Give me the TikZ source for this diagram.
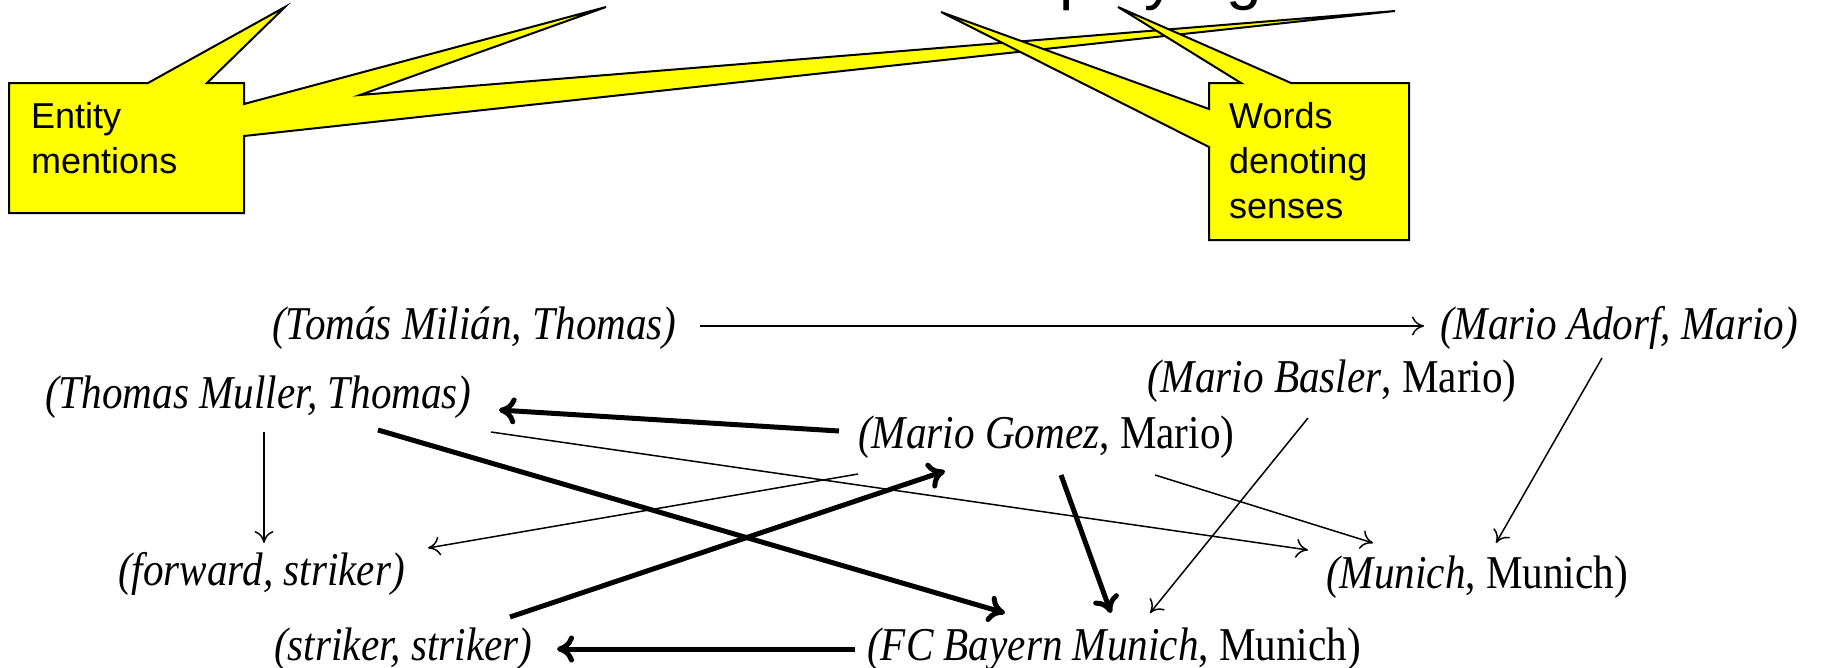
\documentclass[tikz,border=0pt]{standalone}
\usepackage{fontspec}
\setmainfont{Liberation Serif}
\setsansfont{Liberation Sans}
\usetikzlibrary{arrows.meta}
\definecolor{cyel}{RGB}{255,255,0}
\newcommand{\tallbox}[1]{\scalebox{0.98}[1.12]{#1}}
\tikzset{
  lbl/.style={anchor=base west, inner sep=0pt, font=\fontsize{42}{50}\selectfont},
  calltext/.style={anchor=base west, inner sep=0pt, text width=190pt, align=left, font=\sffamily\fontsize{36}{45}\selectfont},
  callshape/.style={fill=cyel, draw=black, line width=2pt, line join=miter},
  thin/.style={line width=1.5pt, -{To[length=12pt,width=19pt]}},
  thick/.style={line width=5pt, -{To[length=17pt,width=27pt]}},
}
\begin{document}
\begin{tikzpicture}[x=1pt,y=-1pt]
\useasboundingbox (0,0) rectangle (1821,667);
\clip (0,0) rectangle (1821,667);
\fill[white] (0,0) rectangle (1821,667);
% partially visible title word
\node[anchor=base west, inner sep=0pt, font=\sffamily\fontsize{64}{70}\selectfont] (title) at (1059,-3) {playing};
% left callout
\draw[callshape] (9,83) -- (148,83) -- (285,7) -- (207,83) -- (244,83) -- (244,104)
  -- (606,7) -- (360,95) -- (1395,11) -- (244,136) -- (244,213) -- (9,213) -- cycle;
\node[calltext] (em) at (31,128) {Entity\\mentions};
% right callout
\draw[callshape] (1209,83) -- (1241,83) -- (1118,7) -- (1291,83) -- (1409,83) -- (1409,240)
  -- (1209,240) -- (1209,147) -- (941,12) -- (1209,109) -- cycle;
\node[calltext] (ws) at (1229,128) {Words\\denoting\\senses};
% graph nodes
\node[lbl] (T)  at (272,339)  {\tallbox{\textit{(Tomás Milián, Thomas)}}};
\node[lbl] (MA) at (1440,339) {\tallbox{\textit{(Mario Adorf, Mario)}}};
\node[lbl] (TM) at (45,408)   {\tallbox{\textit{(Thomas Muller, Thomas)}}};
\node[lbl] (MB) at (1147,392) {\tallbox{\textit{(Mario Basler}, Mario)}};
\node[lbl] (MG) at (858,448)  {\tallbox{\textit{(Mario Gomez}, Mario)}};
\node[lbl] (FS) at (118,585)  {\tallbox{\textit{(forward, striker)}}};
\node[lbl] (MU) at (1326,588) {\tallbox{\textit{(Munich}, Munich)}};
\node[lbl] (SS) at (274,660)  {\tallbox{\textit{(striker, striker)}}};
\node[lbl] (FC) at (867,660)  {\tallbox{\textit{(FC Bayern Munich}, Munich)}};
% connectors
\draw[thin]  ([shift={(428,-13)}]T.base west) -- ([shift={(-16,-13)}]MA.base west);
\draw[thick] ([shift={(-19,-17)}]MG.base west) -- ([shift={(454,2)}]TM.base west);
\draw[thin]  ([shift={(219,24)}]TM.base west) -- ([shift={(146,-42)}]FS.base west);
\draw[thick] ([shift={(333,22)}]TM.base west) -- ([shift={(138,-47)}]FC.base west);
\draw[thin]  ([shift={(446,24)}]TM.base west) -- ([shift={(-18,-38)}]MU.base west);
\draw[thin]  ([shift={(0,26)}]MG.base west) -- ([shift={(310,-37)}]FS.base west);
\draw[thick] ([shift={(236,-43)}]SS.base west) -- ([shift={(87,23)}]MG.base west);
\draw[thick] ([shift={(203,27)}]MG.base west) -- ([shift={(244,-47)}]FC.base west);
\draw[thin]  ([shift={(297,27)}]MG.base west) -- ([shift={(47,-45)}]MU.base west);
\draw[thin]  ([shift={(161,26)}]MB.base west) -- ([shift={(283,-47)}]FC.base west);
\draw[thin]  ([shift={(162,19)}]MA.base west) -- ([shift={(170,-45)}]MU.base west);
\draw[thick] ([shift={(-12,-11)}]FC.base west) -- ([shift={(283,-11)}]SS.base west);
\end{tikzpicture}
\end{document}
